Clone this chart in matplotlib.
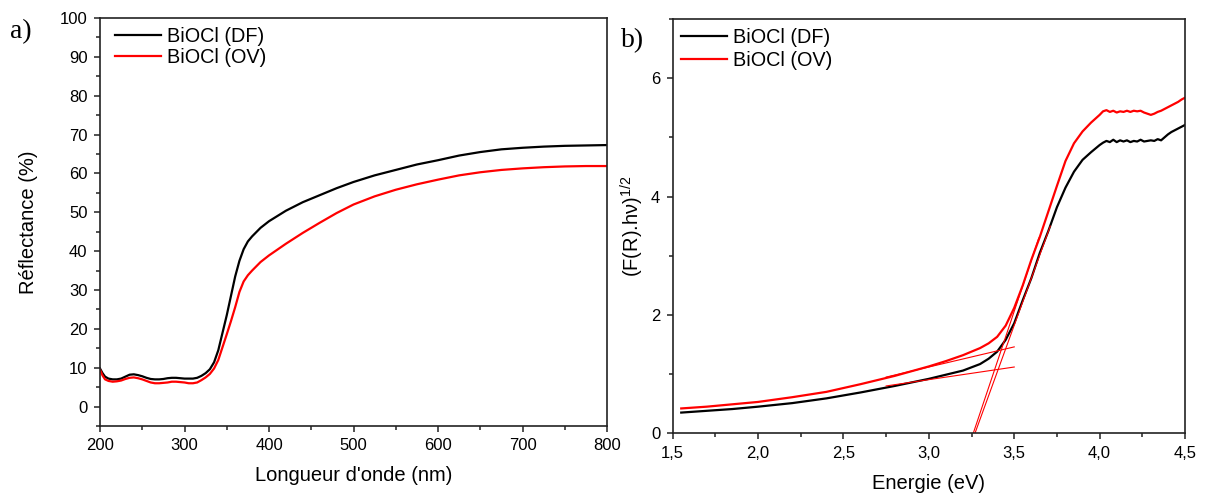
import matplotlib
matplotlib.use("Agg")
import matplotlib.pyplot as plt
from matplotlib.ticker import MultipleLocator, FuncFormatter

plt.rcParams['font.family'] = ['Liberation Sans', 'DejaVu Sans']
plt.rcParams['mathtext.fontset'] = 'custom'
plt.rcParams['mathtext.rm'] = 'Liberation Sans'
plt.rcParams['mathtext.it'] = 'Liberation Sans'

# ---------------- data: panel a ----------------
wavelength = [200, 203, 206, 210, 215, 220, 225, 230, 235, 240, 245, 250, 255, 260, 265,
              270, 275, 280, 285, 290, 295, 300, 305, 310, 315, 320, 325, 330, 335, 340,
              345, 350, 355, 360, 365, 370, 375, 380, 390, 400, 420, 440, 460, 480, 500,
              525, 550, 575, 600, 625, 650, 675, 700, 725, 750, 775, 800]
refl_df = [9.8, 8.6, 7.7, 7.2, 7.0, 7.0, 7.2, 7.7, 8.2, 8.3, 8.1, 7.8, 7.4, 7.1, 7.0,
           7.0, 7.1, 7.3, 7.4, 7.4, 7.3, 7.2, 7.2, 7.2, 7.4, 7.9, 8.6, 9.6, 11.4, 14.5,
           19.0, 23.5, 28.5, 33.5, 37.5, 40.5, 42.5, 43.8, 46.0, 47.7, 50.4, 52.6, 54.4, 56.2, 57.8,
           59.5, 60.9, 62.3, 63.4, 64.6, 65.5, 66.2, 66.6, 66.9, 67.1, 67.2, 67.3]
refl_ov = [9.5, 8.0, 7.0, 6.6, 6.4, 6.5, 6.7, 7.1, 7.4, 7.5, 7.3, 7.0, 6.6, 6.2, 6.0,
           6.0, 6.1, 6.2, 6.4, 6.4, 6.3, 6.2, 6.0, 6.0, 6.2, 6.8, 7.5, 8.4, 9.8, 12.0,
           15.3, 18.6, 22.0, 25.6, 29.5, 32.2, 33.8, 35.0, 37.2, 38.9, 41.9, 44.7, 47.3, 49.8, 52.0,
           54.1, 55.8, 57.2, 58.4, 59.5, 60.3, 60.9, 61.3, 61.6, 61.8, 61.9, 61.9]

# ---------------- data: panel b ----------------
energy = [1.55, 1.70, 1.85, 2.00, 2.20, 2.40, 2.60, 2.80, 3.00, 3.10, 3.20, 3.30, 3.35,
          3.40, 3.45, 3.50, 3.55, 3.60, 3.65, 3.70, 3.75, 3.80, 3.85, 3.90, 3.95, 4.00,
          4.02, 4.04, 4.06, 4.08, 4.10, 4.12, 4.14, 4.16, 4.18, 4.20, 4.22, 4.24, 4.26,
          4.28, 4.30, 4.32, 4.34, 4.36, 4.38, 4.40, 4.42, 4.44, 4.46, 4.48, 4.50]
tauc_df = [0.35, 0.38, 0.41, 0.45, 0.51, 0.59, 0.69, 0.80, 0.92, 0.99, 1.06, 1.17, 1.26,
           1.38, 1.58, 1.86, 2.25, 2.62, 3.05, 3.42, 3.82, 4.15, 4.42, 4.62, 4.75, 4.87,
           4.91, 4.94, 4.92, 4.96, 4.92, 4.95, 4.93, 4.95, 4.92, 4.94, 4.93, 4.96, 4.93,
           4.94, 4.95, 4.94, 4.97, 4.95, 5.00, 5.05, 5.09, 5.12, 5.15, 5.18, 5.21]
tauc_ov = [0.42, 0.45, 0.49, 0.53, 0.61, 0.70, 0.83, 0.97, 1.13, 1.22, 1.32, 1.44, 1.52,
           1.63, 1.82, 2.12, 2.50, 2.93, 3.32, 3.75, 4.18, 4.60, 4.90, 5.10, 5.25, 5.38,
           5.44, 5.46, 5.43, 5.45, 5.42, 5.44, 5.43, 5.45, 5.43, 5.45, 5.44, 5.45, 5.42,
           5.40, 5.38, 5.40, 5.43, 5.45, 5.48, 5.51, 5.54, 5.57, 5.60, 5.64, 5.67]

# linear fits (tangent lines) endpoints
fit_steep_df_x = [3.27, 3.711]
fit_steep_df_y = [0.0, 3.5]
fit_steep_ov_x = [3.26, 3.644]
fit_steep_ov_y = [0.0, 3.3]
fit_base_df_x = [2.75, 3.50]
fit_base_df_y = [0.80, 1.12]
fit_base_ov_x = [2.75, 3.50]
fit_base_ov_y = [0.95, 1.46]

labels = ['BiOCl (DF)', 'BiOCl (OV)']
colors = ['black', '#ff0000']

W, H = 1208, 499
fig = plt.figure(figsize=(W / 100, H / 100), dpi=100)

def frac_axes(x0, y0, x1, y1):
    return [x0 / W, 1 - y1 / H, (x1 - x0) / W, (y1 - y0) / H]

axA = fig.add_axes(frac_axes(100, 18, 607, 426))
axB = fig.add_axes(frac_axes(672.7, 19, 1185, 433.3))

tick_fs = 12
label_fs = 14.5
leg_fs = 14.3

for ax in (axA, axB):
    for side in ('top', 'right', 'left', 'bottom'):
        ax.spines[side].set_linewidth(1.2)
        ax.spines[side].set_color('#222222')
    ax.tick_params(which='both', direction='out', top=False, right=False,
                   labelsize=tick_fs, width=1.1, color='#222222', pad=4.5)
    ax.tick_params(which='major', length=4.5)
    ax.tick_params(which='minor', length=3)

# panel a
axA.plot(wavelength, refl_df, color=colors[0], lw=1.6, label=labels[0])
axA.plot(wavelength, refl_ov, color=colors[1], lw=1.6, label=labels[1])
axA.set_xlim(200, 800)
axA.set_ylim(-5, 100)
axA.xaxis.set_major_locator(MultipleLocator(100))
axA.xaxis.set_minor_locator(MultipleLocator(50))
axA.yaxis.set_major_locator(MultipleLocator(10))
axA.yaxis.set_minor_locator(MultipleLocator(5))
axA.set_xlabel("Longueur d'onde (nm)", fontsize=label_fs)
axA.set_ylabel("Réflectance (%)", fontsize=label_fs)
axA.xaxis.set_label_coords(0.5, -0.098)
axA.yaxis.set_label_coords(-0.122, 0.5)
axA.legend(loc='upper left', bbox_to_anchor=(0.03, 0.978), frameon=False,
           fontsize=leg_fs, handlelength=2.3, handletextpad=0.3,
           borderaxespad=0, borderpad=0, labelspacing=0.1)

# panel b
axB.plot(energy, tauc_df, color=colors[0], lw=1.6, label=labels[0])
axB.plot(energy, tauc_ov, color=colors[1], lw=1.6, label=labels[1])
for fx, fy in ((fit_steep_df_x, fit_steep_df_y), (fit_steep_ov_x, fit_steep_ov_y),
               (fit_base_df_x, fit_base_df_y), (fit_base_ov_x, fit_base_ov_y)):
    axB.plot(fx, fy, color=colors[1], lw=0.8)
axB.set_xlim(1.5, 4.5)
axB.set_ylim(0, 7)
axB.xaxis.set_major_locator(MultipleLocator(0.5))
axB.xaxis.set_minor_locator(MultipleLocator(0.25))
axB.yaxis.set_major_locator(MultipleLocator(2))
axB.yaxis.set_minor_locator(MultipleLocator(1))
axB.xaxis.set_major_formatter(FuncFormatter(lambda v, p: f"{v:.1f}".replace('.', ',')))
axB.yaxis.set_major_formatter(FuncFormatter(lambda v, p: f"{v:.0f}"))
axB.set_xlabel("Energie (eV)", fontsize=label_fs)
axB.set_ylabel(r"(F(R).hν)$^{1/2}$", fontsize=label_fs)
axB.xaxis.set_label_coords(0.5, -0.098)
axB.yaxis.set_label_coords(-0.052, 0.5)
axB.legend(loc='upper left', bbox_to_anchor=(0.016, 0.978), frameon=False,
           fontsize=leg_fs, handlelength=2.3, handletextpad=0.3,
           borderaxespad=0, borderpad=0, labelspacing=0.2)

fig.text(10 / W, 1 - 32 / H, 'a)', fontsize=20, family='Liberation Serif',
         ha='left', va='center')
fig.text(621 / W, 1 - 41 / H, 'b)', fontsize=20, family='Liberation Serif',
         ha='left', va='center')

fig.savefig('out.png', dpi=100)
